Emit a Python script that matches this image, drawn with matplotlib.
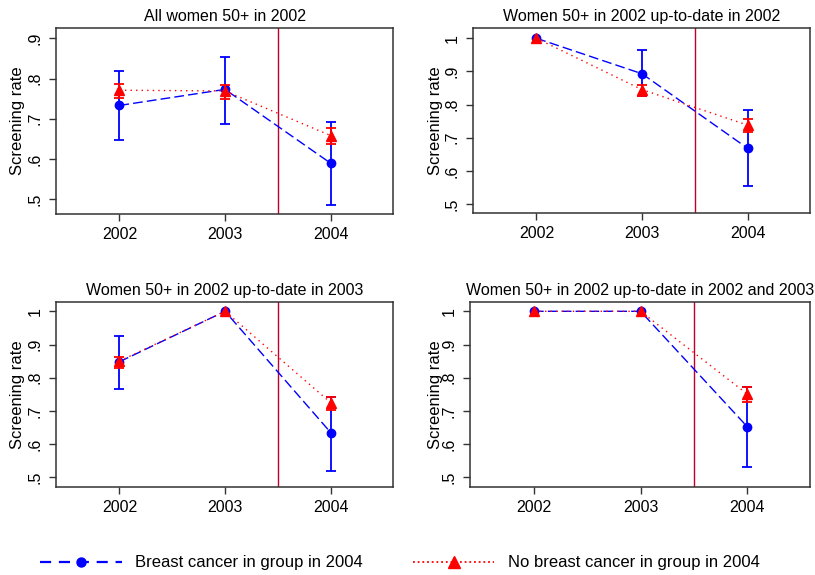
import numpy as np
import matplotlib
matplotlib.use("Agg")
import matplotlib.pyplot as plt
from matplotlib.lines import Line2D

plt.rcParams["font.family"] = ["Liberation Sans", "DejaVu Sans"]

years = [2002, 2003, 2004]
titles = [
    "All women 50+ in 2002",
    "Women 50+ in 2002 up-to-date in 2002",
    "Women 50+ in 2002 up-to-date in 2003",
    "Women 50+ in 2002 up-to-date in 2002 and 2003",
]
legend_labels = ["Breast cancer in group in 2004", "No breast cancer in group in 2004"]

# breast cancer in group (blue)
bc_rate = [
    [0.733, 0.773, 0.589],
    [1.0, 0.893, 0.668],
    [0.848, 1.0, 0.635],
    [1.0, 1.0, 0.653],
]
bc_lo = [
    [0.646, 0.688, 0.486],
    [np.nan, 0.825, 0.555],
    [0.767, np.nan, 0.520],
    [np.nan, np.nan, 0.530],
]
bc_hi = [
    [0.819, 0.854, 0.691],
    [np.nan, 0.965, 0.783],
    [0.926, np.nan, 0.743],
    [np.nan, np.nan, 0.771],
]

# no breast cancer in group (red)
nobc_rate = [
    [0.771, 0.769, 0.658],
    [1.0, 0.845, 0.738],
    [0.850, 1.0, 0.725],
    [1.0, 1.0, 0.751],
]
nobc_lo = [
    [0.752, 0.748, 0.637],
    [np.nan, 0.825, 0.718],
    [0.830, np.nan, 0.703],
    [np.nan, np.nan, 0.726],
]
nobc_hi = [
    [0.787, 0.783, 0.676],
    [np.nan, 0.860, 0.758],
    [0.861, np.nan, 0.743],
    [np.nan, np.nan, 0.771],
]

y_ticks = [[0.5, 0.6, 0.7, 0.8, 0.9], [0.5, 0.6, 0.7, 0.8, 0.9, 1.0],
           [0.5, 0.6, 0.7, 0.8, 0.9, 1.0], [0.5, 0.6, 0.7, 0.8, 0.9, 1.0]]
y_tick_labels = [[".5", ".6", ".7", ".8", ".9"], [".5", ".6", ".7", ".8", ".9", "1"],
                 [".5", ".6", ".7", ".8", ".9", "1"], [".5", ".6", ".7", ".8", ".9", "1"]]
y_limits = [(0.4625, 0.926), (0.473, 1.031), (0.471, 1.028), (0.471, 1.028)]

W, H = 815, 575
# panel boxes in pixels: left, top, right, bottom
boxes = [(56, 28, 393, 214), (473, 28, 810, 213), (56, 302, 393, 487), (470, 302, 810, 487)]
# right edge of the rotated y label, in pixels
ylabel_x = [25, 443, 25, 443]

BLUE = "#0000ff"
RED = "#ff0000"
VLINE = "#c0002a"
SPINE = "#333333"

fig = plt.figure(figsize=(W / 100, H / 100), dpi=100)


def draw_ci(ax, rate, lo, hi, color, z):
    x = np.array(years, dtype=float)
    lo = np.array(lo)
    hi = np.array(hi)
    ok = ~np.isnan(lo)
    r = np.array(rate)
    ax.errorbar(x[ok], r[ok], yerr=[r[ok] - lo[ok], hi[ok] - r[ok]], fmt="none",
                ecolor=color, elinewidth=1.3, capsize=3.5, capthick=1.3, zorder=z)


for i in range(4):
    l, t, r, b = boxes[i]
    ax = fig.add_axes([l / W, 1 - b / H, (r - l) / W, (b - t) / H])

    draw_ci(ax, bc_rate[i], bc_lo[i], bc_hi[i], BLUE, 2)
    ax.plot(years, bc_rate[i], color=BLUE, lw=1, dashes=(7, 3), marker="o", ms=6,
            markerfacecolor=BLUE, markeredgecolor=BLUE, zorder=3)
    draw_ci(ax, nobc_rate[i], nobc_lo[i], nobc_hi[i], RED, 4)
    ax.plot(years, nobc_rate[i], color=RED, lw=1, dashes=(1, 3), marker="^", ms=7,
            markerfacecolor=RED, markeredgecolor=RED, zorder=5)

    ax.axvline(2003.5, color=VLINE, lw=1, zorder=1)

    ax.set_xlim(2001.4, 2004.59)
    ax.set_ylim(*y_limits[i])
    ax.set_xticks(years)
    ax.set_xticklabels([str(y) for y in years])
    ax.set_yticks(y_ticks[i])
    ax.set_yticklabels(y_tick_labels[i], rotation=90, va="center")
    ax.tick_params(axis="both", direction="out", length=5, width=1, color=SPINE,
                   labelsize=11.5, pad=4.5)
    for s in ax.spines.values():
        s.set_color(SPINE)
        s.set_linewidth(1.1)

    ax.set_title(titles[i], fontsize=11.5, pad=5)
    ax.set_ylabel("Screening rate", fontsize=12)
    ax.yaxis.set_label_coords((ylabel_x[i] - l) / (r - l), 0.5)

handles = [
    Line2D([], [], color=BLUE, lw=1.6, dashes=(5, 3.5), marker="o", ms=6.5),
    Line2D([], [], color=RED, lw=1.3, dashes=(1, 1.6), marker="^", ms=8),
]
fig.legend(handles, legend_labels, loc="center left", ncol=2, frameon=False,
           bbox_to_anchor=(40 / W, 1 - 563 / H), fontsize=12, handlelength=4.9,
           handletextpad=0.8, columnspacing=3.0, borderpad=0, borderaxespad=0)

fig.savefig("out.png", dpi=100)
